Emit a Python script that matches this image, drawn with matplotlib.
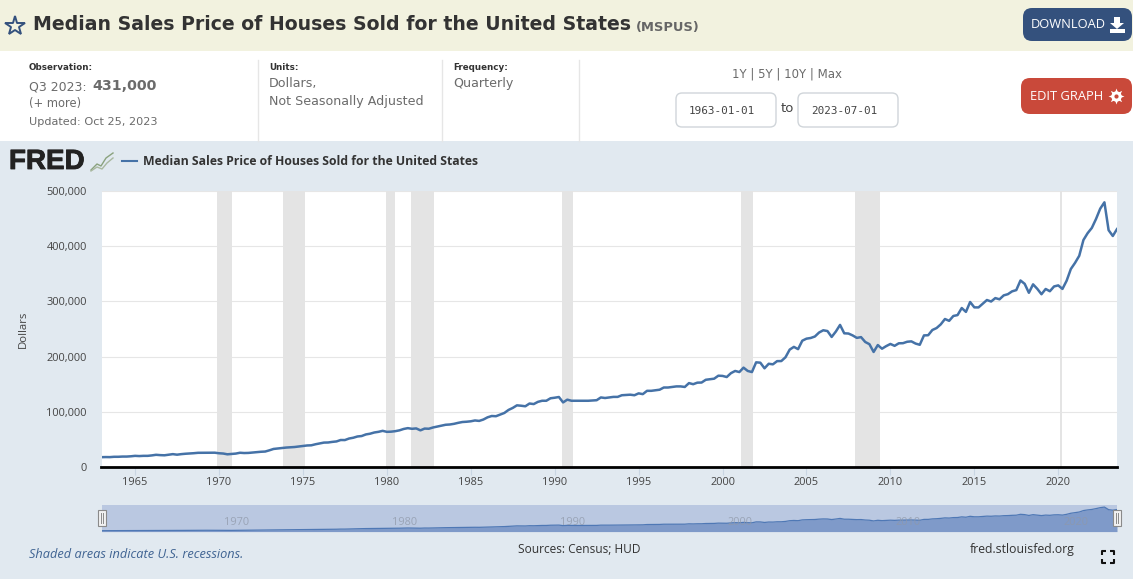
import numpy as np
import matplotlib
matplotlib.use("Agg")
import matplotlib.pyplot as plt
import matplotlib.patheffects as pe
from matplotlib.patches import FancyBboxPatch, Rectangle, Polygon

W, H = 1133, 579
UI_FONT = "DejaVu Sans"
CHART_FONT = "Open Sans"

# quarterly observations, one row per year (1963 Q1 ... 2023 Q3)
first_year = 1963
prices = [
    17800, 18000, 17900, 18500,
    18500, 18900, 18900, 19400,
    20200, 19800, 20200, 20200,
    21000, 22100, 21500, 21200,
    22300, 23300, 22300, 23300,
    24000, 24400, 25000, 25700,
    25700, 25700, 25900, 25900,
    24900, 24400, 23000, 23600,
    24300, 25800, 25300, 25500,
    26200, 26800, 27600, 28000,
    30200, 32700, 33500, 34500,
    35200, 35600, 36200, 37200,
    38100, 39000, 39300, 41200,
    42800, 44200, 44400, 45500,
    46300, 48900, 48800, 51600,
    53000, 55300, 56100, 59000,
    60300, 62500, 63700, 65500,
    63700, 64000, 64900, 66400,
    68900, 70400, 69200, 69900,
    66400, 69600, 69300, 71600,
    73300, 74900, 76500, 77000,
    78200, 80000, 81500, 82000,
    82800, 84300, 83500, 86000,
    90000, 92400, 92000, 95000,
    97900, 103400, 107000, 111700,
    111000, 110000, 115000, 114000,
    118000, 120000, 120000, 124500,
    125500, 126800, 117000, 122000,
    120000, 119900, 120000, 120000,
    120000, 120500, 121000, 126000,
    125000, 126000, 127000, 127000,
    130000, 130500, 131000, 130000,
    133400, 132000, 138000, 138000,
    139000, 140000, 144000, 144000,
    145000, 146000, 146000, 145000,
    152000, 150000, 152800, 153000,
    158000, 159000, 160000, 165400,
    165000, 163000, 170000, 174000,
    172000, 180000, 174000, 172000,
    189600, 189000, 178800, 187000,
    186000, 191800, 191900, 198800,
    212700, 217600, 213500, 228800,
    232500, 233700, 236400, 243600,
    247700, 246300, 235600, 245400,
    257400, 242200, 241800, 238400,
    233900, 235300, 226500, 222500,
    208400, 220900, 214300, 219000,
    222900, 219500, 224100, 224300,
    226900, 227600, 223600, 221400,
    238400, 238700, 248200, 251700,
    258400, 268100, 264800, 273600,
    275200, 288000, 281000, 298900,
    289200, 289100, 295800, 302500,
    299800, 306000, 303800, 310900,
    313100, 318200, 320500, 337900,
    331800, 315600, 330900, 322800,
    313000, 322500, 318400, 327100,
    329000, 322600, 337500, 358700,
    369800, 382600, 411200, 423600,
    433100, 449300, 468000, 479500,
    429000, 418500, 431000,
]
years = first_year + np.arange(len(prices)) / 4

rec_start = [1969.88, 1973.82, 1979.95, 1981.44, 1990.46, 2001.1, 2007.9, 2020.08]
rec_end = [1970.76, 1975.11, 1980.49, 1982.82, 1991.1, 2001.82, 2009.39, 2020.24]

x_ticks = list(range(1965, 2021, 5))
y_ticks = [0, 100000, 200000, 300000, 400000, 500000]
nav_ticks = [1970, 1980, 1990, 2000, 2010, 2020]

BG = "#e1e9f0"
LINE = "#4572a7"


def px_axes(fig, left, top, right, bottom):
    return fig.add_axes([left / W, 1 - bottom / H, (right - left) / W, (bottom - top) / H])


def button(ax, x0, y0, x1, y1, color, rad=9, edge="none"):
    ax.add_patch(FancyBboxPatch((x0 + rad, y0 + rad), x1 - x0 - 2 * rad, y1 - y0 - 2 * rad,
                                boxstyle=f"round,pad={rad},rounding_size={rad}",
                                fc=color, ec=edge, lw=1))


fig = plt.figure(figsize=(W / 100, H / 100), dpi=100, facecolor="white")

# ── background bands sit below everything ────────────────────────────────────
back = fig.add_axes([0, 0, 1, 1], zorder=-1)
back.set_xlim(0, W)
back.set_ylim(H, 0)
back.axis("off")
back.add_patch(Rectangle((0, 0), W, 51, fc="#f2f2df", ec="none"))
back.add_patch(Rectangle((0, 141), W, H - 141, fc=BG, ec="none"))

# ── page chrome, drawn in pixel coordinates ──────────────────────────────────
ui = fig.add_axes([0, 0, 1, 1], zorder=3)
ui.set_xlim(0, W)
ui.set_ylim(H, 0)
ui.axis("off")
ui.patch.set_visible(False)

ui.plot([15], [26], marker="*", ms=15, mfc="none", mec="#34517d", mew=1.4)
ui.text(33, 25, "Median Sales Price of Houses Sold for the United States",
        fontsize=13.6, weight="bold", color="#333333", va="center", family=UI_FONT)
ui.text(636, 28, "(MSPUS)", fontsize=9.4, weight="bold", color="#666666", va="center", family=UI_FONT)

button(ui, 1023, 8, 1132, 41, "#34517d")
ui.text(1031, 25, "DOWNLOAD", fontsize=9.3, color="white", va="center", family=CHART_FONT)
ui.add_patch(Polygon([(1114, 17), (1120, 17), (1120, 23), (1124, 23), (1117, 29), (1110, 23), (1114, 23)],
                     fc="white", ec="none"))
ui.add_patch(Rectangle((1110, 29), 15, 4, fc="white", ec="none"))
button(ui, 1021, 78, 1132, 114, "#c9493a")
ui.text(1030, 96, "EDIT GRAPH", fontsize=9.3, color="white", va="center", family=CHART_FONT)
ui.plot([1115.5], [96], marker=(8, 1, 0), ms=11.5, color="white", mew=0)
ui.plot([1115.5], [96], marker="o", ms=7.5, color="white", mew=0)
ui.plot([1115.5], [96], marker="o", ms=3, color="#c9493a", mew=0)

for sep_x in [258, 442, 579]:
    ui.plot([sep_x, sep_x], [60, 141], color="#e6e6e6", lw=1)

label_col = "#333333"
value_col = "#6b6b6b"
ui.text(29, 68, "Observation:", fontsize=6.3, weight="bold", color=label_col, va="center", family=UI_FONT)
ui.text(29, 87, "Q3 2023:", fontsize=9, color=value_col, va="center", family=UI_FONT)
ui.text(92, 86, "431,000", fontsize=10.3, weight="bold", color=value_col, va="center", family=UI_FONT)
ui.text(29, 104, "(+ more)", fontsize=8.3, color=value_col, va="center", family=UI_FONT)
ui.text(29, 122, "Updated: Oct 25, 2023", fontsize=8.1, color=value_col, va="center", family=UI_FONT)
ui.text(269, 68, "Units:", fontsize=6.3, weight="bold", color=label_col, va="center", family=UI_FONT)
ui.text(269, 84, "Dollars,", fontsize=9.1, color=value_col, va="center", family=UI_FONT)
ui.text(269, 102, "Not Seasonally Adjusted", fontsize=9.1, color=value_col, va="center", family=UI_FONT)
ui.text(453, 68, "Frequency:", fontsize=6.3, weight="bold", color=label_col, va="center", family=UI_FONT)
ui.text(453, 84, "Quarterly", fontsize=9.1, color=value_col, va="center", family=UI_FONT)

ui.text(787.5, 74, "1Y | 5Y | 10Y | Max", fontsize=8.5, color="#6b6b6b", ha="center", va="center", family=UI_FONT)
for box_x, date in [(676, "1963-01-01"), (798, "2023-07-01")]:
    button(ui, box_x, 93, box_x + 100, 127, "white", rad=6, edge="#d0d5da")
    ui.text(box_x + 46, 110.5, date, fontsize=7.9, color="#444444", ha="center", va="center",
            family="DejaVu Sans Mono")
ui.text(787, 109, "to", fontsize=9.5, color="#444444", ha="center", va="center", family=UI_FONT)

# FRED logo and legend
ui.text(9, 162, "FRED", fontsize=20, weight="bold", color="#222222", va="center", family="Liberation Sans",
        path_effects=[pe.withStroke(linewidth=0.6, foreground="#222222")])
ui.plot([91, 97, 101, 106, 113], [170, 164, 166, 158, 153], color="#8aa27e", lw=1)
ui.plot([91, 97, 102, 107, 113], [171, 167, 169, 163, 158], color="#a9b8a0", lw=1)
ui.plot([122, 137], [161, 161], color=LINE, lw=1.5)
ui.text(143, 161.5, "Median Sales Price of Houses Sold for the United States", fontsize=8.8,
        weight="bold", color="#333333", va="center", family=CHART_FONT)

ui.text(23, 329, "Dollars", fontsize=8.2, color="#444444", rotation=90, ha="center", va="center", family=CHART_FONT)
ui.text(29, 554, "Shaded areas indicate U.S. recessions.", fontsize=9.2, style="italic",
        color="#3f6392", va="center", family=CHART_FONT)
ui.text(579, 549.5, "Sources: Census; HUD", fontsize=8.6, color="#333333", ha="center", va="center", family=CHART_FONT)
ui.text(1075, 549.5, "fred.stlouisfed.org", fontsize=8.8, color="#333333", ha="right", va="center", family=CHART_FONT)
for cx, cy, dx, dy in [(1102, 551, 1, 1), (1114, 551, -1, 1), (1102, 563, 1, -1), (1114, 563, -1, -1)]:
    ui.plot([cx + 4 * dx, cx, cx], [cy, cy, cy + 4 * dy], color="#111111", lw=1.5, solid_capstyle="butt")

# ── main chart ───────────────────────────────────────────────────────────────
ax = px_axes(fig, 101.5, 191, 1117, 467)
for x0, x1 in zip(rec_start, rec_end):
    ax.axvspan(x0, x1, color="#e4e4e4", lw=0, zorder=2)
ax.plot(years, prices, color=LINE, lw=1.8, zorder=3, solid_joinstyle="round")
ax.set_xlim(first_year, 2023.5)
ax.set_ylim(0, 500000)
ax.set_xticks(x_ticks)
ax.set_yticks(y_ticks)
ax.set_yticklabels([f"{v:,}" for v in y_ticks], family=CHART_FONT, fontsize=7.9, color="#444444")
ax.set_xticklabels([str(v) for v in x_ticks], family=CHART_FONT, fontsize=7.9, color="#444444")
ax.grid(axis="y", color="#e6e6e6", lw=0.8, zorder=1)
ax.set_axisbelow(True)
ax.tick_params(axis="y", length=0, pad=10.5)
ax.tick_params(axis="x", length=6, width=0.8, color="#c9d6e3", pad=1)
for side in ["top", "left", "right"]:
    ax.spines[side].set_visible(False)
ax.spines["bottom"].set_color("black")
ax.spines["bottom"].set_linewidth(2)

# ── navigator strip ──────────────────────────────────────────────────────────
nav = px_axes(fig, 101.5, 505, 1117, 532)
nav.set_facecolor("#bac8e1")
nav.fill_between(years, prices, 0, color="#7f9ac9", lw=0, zorder=2)
nav.plot(years, prices, color="#4f78b5", lw=0.9, zorder=3)
nav.set_xlim(first_year, 2023.5)
nav.set_ylim(-8000, 520000)
nav.set_xticks([])
nav.set_yticks([])
for side in nav.spines.values():
    side.set_visible(False)
for yr in nav_ticks:
    nav.annotate(str(yr), (yr, 0), xytext=(5, 9), textcoords="offset pixels", ha="left", va="center",
                 fontsize=7.9, color="#8f98a8", alpha=0.75, family=CHART_FONT, zorder=4)

for hx in [101.5, 1117]:
    ui.add_patch(Rectangle((hx - 4, 510), 8, 16, fc="#f2f2f2", ec="#8a8a8a", lw=0.8, zorder=5))
    ui.plot([hx - 1, hx - 1], [513, 523], color="#8a8a8a", lw=0.7, zorder=6)
    ui.plot([hx + 1, hx + 1], [513, 523], color="#8a8a8a", lw=0.7, zorder=6)

fig.savefig("out.png", dpi=100)
